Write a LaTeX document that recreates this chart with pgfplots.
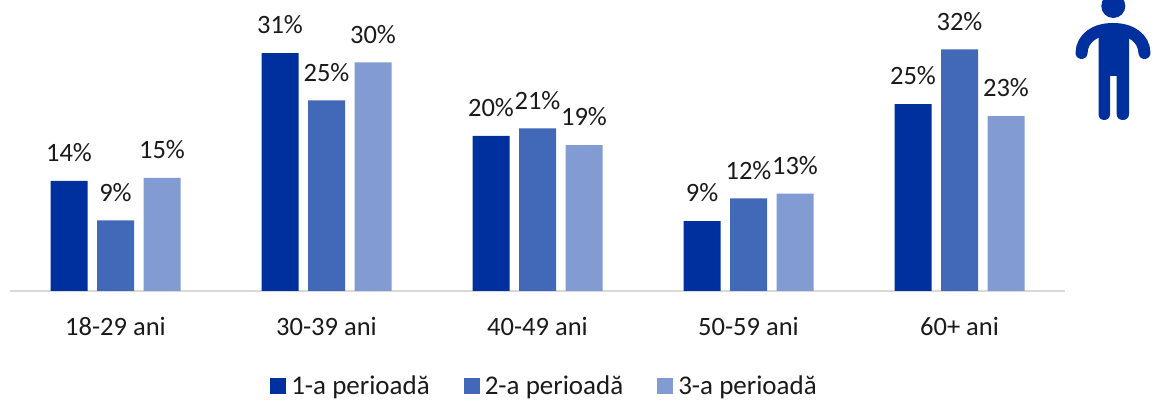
\documentclass[border=0pt]{standalone}
\usepackage{pgfplots}
\pgfplotsset{compat=1.18}
\usepackage{fontspec}
\setmainfont{Carlito}
\definecolor{cA}{HTML}{00309E}
\definecolor{cB}{HTML}{4268B8}
\definecolor{cC}{HTML}{829BD2}
\definecolor{cAx}{HTML}{D9D9D9}
\definecolor{cT}{HTML}{1A1A1A}
\begin{document}
\begin{tikzpicture}[x=1pt,y=1pt]
\useasboundingbox (0,0) rectangle (1153,401);
\begin{axis}[
  at={(10pt,110pt)},anchor=south west,
  scale only axis,width=1055pt,height=291pt,
  xmin=-0.5,xmax=4.5,ymin=0,ymax=38.3,
  axis x line*=bottom,axis y line=none,
  axis line style={draw=cAx,line width=2.4pt,-},
  ybar=9.5pt,bar width=37pt,
  xtick={0,1,2,3,4},
  xticklabels={18-29 ani,30-39 ani,40-49 ani,50-59 ani,60+ ani},
  major tick length=0pt,
  tick label style={font=\fontsize{26.5}{28}\selectfont,text=cT},
  xticklabel style={yshift=-23pt},
  clip=false,
  point meta=explicit symbolic,
  nodes near coords,
  every node near coord/.append style={font=\fontsize{26.5}{28}\selectfont,text=cT,yshift=15.5pt},
  legend columns=3,
  legend style={draw=none,fill=none,at={(0.2465,-0.3265)},anchor=west,
    font=\fontsize{27}{28}\selectfont,text=cT,
    /tikz/every even column/.style={column sep=32pt},inner sep=0pt},
  legend image code/.code={\fill[#1] (0pt,-8pt) rectangle (16pt,8pt);\path (19pt,0pt);},
]
\addplot[fill=cA,draw=none] coordinates {(0,14.5)[14\%] (1,31.3)[31\%] (2,20.4)[20\%] (3,9.2)[9\%] (4,24.6)[25\%]};
\addplot[fill=cB,draw=none] coordinates {(0,9.3)[9\%] (1,25.1)[25\%] (2,21.4)[21\%] (3,12.2)[12\%] (4,31.8)[32\%]};
\addplot[fill=cC,draw=none] coordinates {(0,14.9)[15\%] (1,30.1)[30\%] (2,19.2)[19\%] (3,12.8)[13\%] (4,23.0)[23\%]};
\legend{1-a perioadă,2-a perioadă,3-a perioadă}
\end{axis}
\begin{scope}[x=1pt,y=-1pt,yshift=401pt]
\clip (1060,0) rectangle (1153,130);
\fill[cA] (1113.3,6) circle[radius=12];
\draw[cA,line width=12pt,line cap=round] (1081.5,53) .. controls (1082,38) and (1095,29) .. (1113,29) .. controls (1131,29) and (1144,38) .. (1144.5,53);
\fill[cA] (1098.5,29) -- (1098.5,114) .. controls (1098.5,118) and (1101,120) .. (1104.2,120) .. controls (1107.5,120) and (1110,118) .. (1110,114) -- (1110,76) -- (1116.7,76) -- (1116.7,114) .. controls (1116.7,118) and (1119.5,120) .. (1122.8,120) .. controls (1126,120) and (1129,118) .. (1129,114) -- (1129,29) -- cycle;
\end{scope}
\end{tikzpicture}
\end{document}
